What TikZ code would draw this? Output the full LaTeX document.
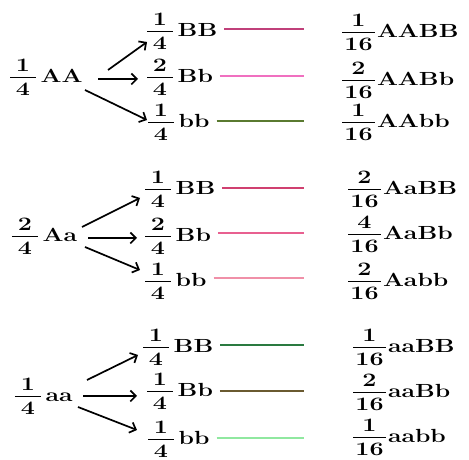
\documentclass[tikz,border=0pt]{standalone}
\usepackage{graphicx}
\usetikzlibrary{arrows.meta}

% stacked fraction: numerator, denominator, bar width
\newcommand{\gfrac}[3]{%
  \rlap{\raisebox{11.8pt}{\makebox[#3]{#1}}}%
  \rlap{\rule[5pt]{#3}{0.8pt}}%
  \raisebox{-12.6pt}{\makebox[#3]{#2}}}
% wide set figures and letters
\newcommand{\widefig}[1]{\scalebox{1.32}[1]{\bfseries #1}}
\newcommand{\wideltr}[1]{\scalebox{1.3}[1]{\textbf{#1}}}
\newcommand{\gq}[2]{\widefig{\gfrac{#1}{4}{19.5pt}}\hspace{5pt}\wideltr{#2}}
\newcommand{\gs}[2]{\widefig{\gfrac{#1}{16}{25pt}}\hspace{2pt}\wideltr{#2}}

\definecolor{lnA}{HTML}{C0407A}
\definecolor{lnB}{HTML}{F070C0}
\definecolor{lnC}{HTML}{5A7A30}
\definecolor{lnD}{HTML}{D04070}
\definecolor{lnE}{HTML}{E86090}
\definecolor{lnF}{HTML}{F090A8}
\definecolor{lnG}{HTML}{2A7A40}
\definecolor{lnH}{HTML}{6A5A30}
\definecolor{lnI}{HTML}{90E8A0}

\tikzset{
  geno/.style={anchor=base west, inner sep=0pt, outer sep=0pt,
    font=\fontsize{19}{23}\selectfont},
  arr/.style={line width=1.7pt, -{Straight Barb[length=5.5pt,width=11pt,line width=1.7pt]}},
  link/.style={line width=1.2pt, shorten <=7pt}
}

\begin{document}
\begin{tikzpicture}[x=1pt,y=1pt]
\useasboundingbox (0,0) rectangle (469,460);
\fill[white] (0,0) rectangle (469,460);

\coordinate (lineend) at (304,0);

% ---- AA ----
\node[geno] (L1) at (10,377) {\gq{1}{AA}};
\node[geno] (M11) at (147,423) {\gq{1}{BB}};
\node[geno] (M12) at (147,377) {\gq{2}{Bb}};
\node[geno] (M13) at (148,332) {\gq{1}{bb}};
\node[geno] (R11) at (342,422) {\gs{1}{AABB}};
\node[geno] (R12) at (342,374) {\gs{2}{AABb}};
\node[geno] (R13) at (342,332) {\gs{1}{AAbb}};

% ---- Aa ----
\node[geno] (L2) at (12,218) {\gq{2}{Aa}};
\node[geno] (M21) at (145,265) {\gq{1}{BB}};
\node[geno] (M22) at (145,218) {\gq{2}{Bb}};
\node[geno] (M23) at (145,173) {\gq{1}{bb}};
\node[geno] (R21) at (348,265) {\gs{2}{AaBB}};
\node[geno] (R22) at (348,220) {\gs{4}{AaBb}};
\node[geno] (R23) at (348,173) {\gs{2}{Aabb}};

% ---- aa ----
\node[geno] (L3) at (15,58) {\gq{1}{aa}};
\node[geno] (M31) at (143,107) {\gq{1}{BB}};
\node[geno] (M32) at (147,63) {\gq{1}{Bb}};
\node[geno] (M33) at (148,15) {\gq{1}{bb}};
\node[geno] (R31) at (353,107) {\gs{1}{aaBB}};
\node[geno] (R32) at (353,62) {\gs{2}{aaBb}};
\node[geno] (R33) at (353,17) {\gs{1}{aabb}};

% branching arrows
\draw[arr] ([shift={(98,13)}]L1.base west) -- ([shift={(0,-5)}]M11.base west);
\draw[arr] ([shift={(88,4)}]L1.base west) -- ([shift={(-9,4)}]M12.base west);
\draw[arr] ([shift={(75,-7)}]L1.base west) -- ([shift={(-1,8)}]M13.base west);

\draw[arr] ([shift={(70,15)}]L2.base west) -- ([shift={(-5,-3)}]M21.base west);
\draw[arr] ([shift={(76,4)}]L2.base west) -- ([shift={(-8,4)}]M22.base west);
\draw[arr] ([shift={(73,-5)}]L2.base west) -- ([shift={(-5,17)}]M23.base west);

\draw[arr] ([shift={(72,22)}]L3.base west) -- ([shift={(-5,-2)}]M31.base west);
\draw[arr] ([shift={(68,6)}]L3.base west) -- ([shift={(-10,1)}]M32.base west);
\draw[arr] ([shift={(63,-5)}]L3.base west) -- ([shift={(-11,15)}]M33.base west);

% connecting rules
\draw[link, lnA] ([yshift=8pt]M11.base east) -- ([yshift=8pt]M11.base east -| lineend);
\draw[link, lnB] ([yshift=7pt]M12.base east) -- ([yshift=7pt]M12.base east -| lineend);
\draw[link, lnC] ([yshift=7pt]M13.base east) -- ([yshift=7pt]M13.base east -| lineend);
\draw[link, lnD] ([yshift=7pt]M21.base east) -- ([yshift=7pt]M21.base east -| lineend);
\draw[link, lnE] ([yshift=9pt]M22.base east) -- ([yshift=9pt]M22.base east -| lineend);
\draw[link, lnF] ([yshift=9pt]M23.base east) -- ([yshift=9pt]M23.base east -| lineend);
\draw[link, lnG] ([yshift=8pt]M31.base east) -- ([yshift=8pt]M31.base east -| lineend);
\draw[link, lnH] ([yshift=6pt]M32.base east) -- ([yshift=6pt]M32.base east -| lineend);
\draw[link, lnI] ([yshift=7pt]M33.base east) -- ([yshift=7pt]M33.base east -| lineend);
\end{tikzpicture}
\end{document}
